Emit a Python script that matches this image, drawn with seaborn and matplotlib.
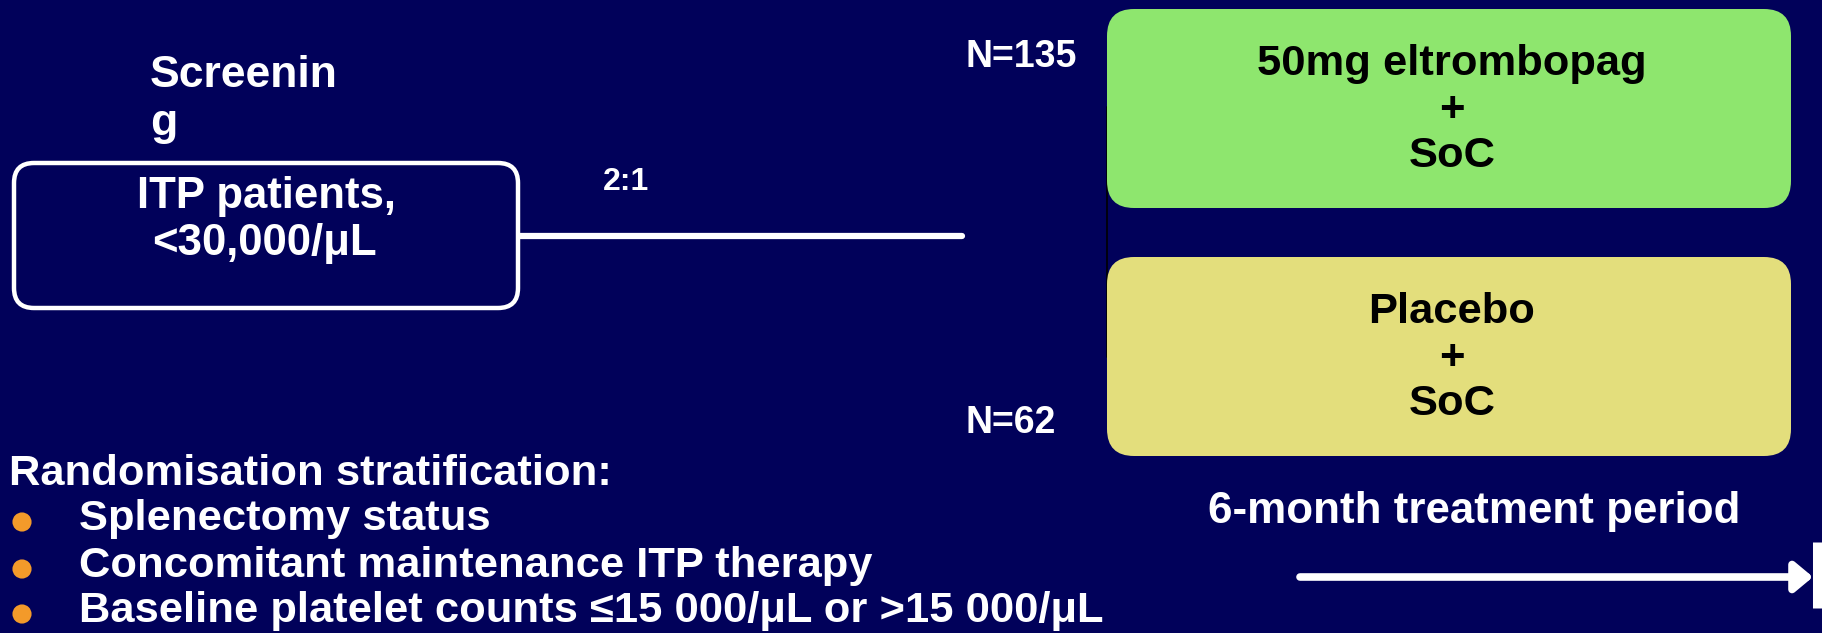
import numpy as np
import pandas as pd
import matplotlib
matplotlib.use("Agg")
import matplotlib.pyplot as plt
from matplotlib.patches import FancyBboxPatch
import seaborn as sns

# ---- content -------------------------------------------------------------
population_label = ["ITP patients,", "<30,000/μL"]
allocation_ratio = "2:1"
arm_names = ["50mg eltrombopag", "Placebo"]
arm_addon = ["+", "+"]
arm_base = ["SoC", "SoC"]
arm_n = [135, 62]
arm_colors = ["#8EE66E", "#E3DE7C"]
strat_title = "Randomisation stratification:"
strat_items = [
    "Splenectomy status",
    "Concomitant maintenance ITP therapy",
    "Baseline platelet counts ≤15 000/μL or >15 000/μL",
]
period_label = "6-month treatment period"

# ---- style ---------------------------------------------------------------
NAVY = "#01015A"
sns.set_theme(style="dark", rc={"axes.facecolor": NAVY, "figure.facecolor": NAVY})
plt.rcParams["font.family"] = ["Liberation Sans", "DejaVu Sans"]
plt.rcParams["font.weight"] = "bold"

W, H = 1822, 633
fig = plt.figure(figsize=(W / 100, H / 100), dpi=100)
ax = fig.add_axes([0, 0, 1, 1])
ax.set_xlim(0, W)
ax.set_ylim(H, 0)
ax.axis("off")

# ---- screening block -----------------------------------------------------
ax.text(150, 87, "Screenin", color="white", fontsize=32, fontweight="bold",
        ha="left", va="baseline")
ax.text(150, 135, "g", color="white", fontsize=32, fontweight="bold",
        ha="left", va="baseline")

ax.add_patch(FancyBboxPatch((14, 163), 504, 145,
                            boxstyle="round,pad=0,rounding_size=20",
                            fc=NAVY, ec="white", lw=3.2, zorder=3))
ax.text(266, 208, population_label[0], color="white", fontsize=31.5,
        fontweight="bold", ha="center", va="baseline", zorder=4)
ax.text(264, 255, population_label[1], color="white", fontsize=31.5,
        fontweight="bold", ha="center", va="baseline", zorder=4)

# connector to randomisation
conn = pd.DataFrame({"x": [518, 962], "y": [236, 236]})
sns.lineplot(data=conn, x="x", y="y", ax=ax, color="white", lw=4.5,
             estimator=None, sort=False, zorder=2)
ax.text(603, 190, allocation_ratio, color="white", fontsize=23,
        fontweight="bold", ha="left", va="baseline")

# thin split line behind the arm boxes
ax.plot([1107, 1107], [107, 357], color="black", lw=1.2, zorder=1)

# ---- treatment arms ------------------------------------------------------
box_x0, box_x1 = 1107, 1791
box_tops = [9, 257]
box_h = 199
n_baselines = [67, 433]
for i in range(2):
    top = box_tops[i]
    ax.add_patch(FancyBboxPatch((box_x0, top), box_x1 - box_x0, box_h,
                                boxstyle="round,pad=0,rounding_size=27",
                                fc=arm_colors[i], ec="none", zorder=3))
    cx = (box_x0 + box_x1) / 2 + 3
    base = top + 66
    for j, line in enumerate([arm_names[i], arm_addon[i], arm_base[i]]):
        ax.text(cx, base + j * 46, line, color="black", fontsize=31.3,
                fontweight="bold", ha="center", va="baseline", zorder=4)
    ax.text(965, n_baselines[i], f"N={arm_n[i]}", color="white", fontsize=27,
            fontweight="bold", ha="left", va="baseline")

# ---- stratification list -------------------------------------------------
ax.text(9, 485, strat_title, color="white", fontsize=31.3, fontweight="bold",
        ha="left", va="baseline")
item_base = [530, 577, 622]
bullets = pd.DataFrame({"x": [22] * len(strat_items),
                        "y": [b - 8 for b in item_base]})
sns.scatterplot(data=bullets, x="x", y="y", ax=ax, color="#F39A2A", s=190,
                edgecolor="none", zorder=4)
for txt, b in zip(strat_items, item_base):
    ax.text(79, b, txt, color="white", fontsize=31.3, fontweight="bold",
            ha="left", va="baseline")

# ---- treatment period ----------------------------------------------------
ax.text(1474, 523, period_label, color="white", fontsize=31.6,
        fontweight="bold", ha="center", va="baseline")
ax.annotate("", xy=(1813, 577), xytext=(1300, 577),
            arrowprops=dict(arrowstyle="-|>,head_length=0.9,head_width=0.75",
                            color="white", lw=5.5, shrinkA=0, shrinkB=0))
ax.plot([1817, 1817], [542, 608], color="white", lw=6.5,
        solid_capstyle="butt")

ax.set_xlabel("")
ax.set_ylabel("")
fig.savefig("out.png", dpi=100, facecolor=NAVY)
